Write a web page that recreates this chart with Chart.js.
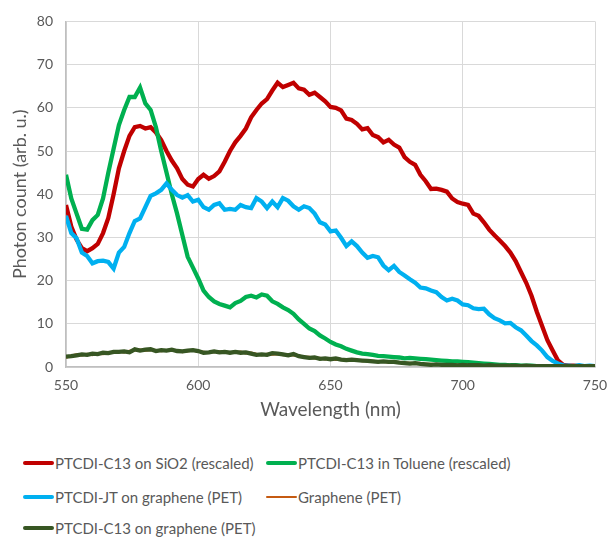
<!DOCTYPE html>
<html>
<head>
<meta charset="utf-8">
<script src="https://cdn.jsdelivr.net/npm/chart.js@4.4.1/dist/chart.umd.min.js"></script>
<style>
  body { margin: 0; background: #fff; }
  #wrap { position: relative; width: 607px; height: 537px; font-family: Lato, sans-serif; }
  #legend .item { position: absolute; height: 20px; line-height: 20px; font-size: 15px; color: #595959; white-space: nowrap; }
  #legend .swatch { position: absolute; left: 0; width: 31px; border-radius: 2px; }
  #legend .label { position: absolute; left: 32px; top: 0; }
</style>
</head>
<body>
<div id="wrap">
  <canvas id="chart" width="607" height="430"></canvas>
  <div id="legend"></div>
</div>
<script>
// wavelength axis, every 2 nm
const wavelengths = [];
for (let w = 550; w <= 750; w += 2) wavelengths.push(w);

const seriesNames = [
  "PTCDI-C13 on SiO2 (rescaled)",
  "PTCDI-C13 in Toluene (rescaled)",
  "PTCDI-JT on graphene (PET)",
  "Graphene (PET)",
  "PTCDI-C13 on graphene (PET)"
];
const seriesColors = ["#C00000", "#00B050", "#00B0F0", "#C55A11", "#375623"];

const sio2 = [37.5, 32.5, 29.5, 27.5, 26.8, 27.5, 28.5, 31, 34.5, 40,
  46, 50, 53.5, 55.5, 55.8, 55.2, 55.5, 54.3, 52.5, 50,
  47.8, 46, 43.5, 42.2, 41.8, 43.5, 44.5, 43.6, 44.2, 45.3,
  47.5, 50, 52, 53.5, 55.2, 57.8, 59.5, 61, 62, 64,
  65.8, 64.8, 65.3, 65.8, 64.5, 64.2, 63, 63.5, 62.5, 61.5,
  60.2, 60, 59.4, 57.5, 57.2, 56.3, 55, 55.3, 53.7, 53.2,
  52, 52.6, 51.5, 50.8, 48.6, 47.5, 46.8, 44.5, 43, 41.2,
  41.3, 41, 40.6, 39, 38.2, 37.8, 37.5, 35.5, 35, 33.5,
  31.8, 30.5, 29.3, 28, 26.5, 24.5, 22, 19.5, 16.5, 12.8,
  9.5, 6.2, 3.8, 1.5, 0.5, 0.3, 0.3, 0.2, 0.2, 0.2, 0.2];

const toluene = [44.5, 39, 35.5, 32, 31.8, 34, 35.2, 39, 45, 50.5,
  56, 59.5, 62.5, 62.5, 64.7, 61, 59.5, 55.5, 50, 45,
  40, 35.5, 30.5, 25.5, 23, 20.5, 17.7, 16.2, 15.2, 14.6,
  14.2, 13.8, 14.8, 15.3, 16.2, 16.5, 16.1, 16.8, 16.5, 15.2,
  14.6, 13.8, 13.2, 12.3, 11, 10, 8.9, 8.3, 7.3, 6.6,
  5.8, 5.2, 4.8, 4.2, 3.8, 3.4, 3.1, 3, 2.8, 2.6,
  2.5, 2.4, 2.3, 2.2, 2.0, 2.1, 2.0, 1.9, 1.8, 1.7,
  1.6, 1.5, 1.4, 1.3, 1.3, 1.2, 1.1, 1.0, 0.9, 0.8,
  0.7, 0.6, 0.5, 0.5, 0.4, 0.4, 0.3, 0.3, 0.3, 0.2,
  0.2, 0.2, 0.2, 0.2, 0.2, 0.2, 0.2, 0.2, 0.2, 0.2, 0.2];

const jtGraphene = [35, 31, 29.8, 26.5, 25.7, 24, 24.5, 24.6, 24.3, 22.8,
  26.5, 27.8, 31, 33.8, 34.4, 37, 39.6, 40.2, 41, 42.5,
  41, 39.8, 39.2, 39.8, 38.3, 38.7, 37, 36.4, 37.5, 37.9,
  36.4, 36.6, 36.4, 37.5, 37, 36.8, 39.1, 38.3, 36.8, 38.3,
  37, 39.1, 38.5, 37.2, 36.4, 37.2, 36.8, 35.5, 33.5, 33,
  31.4, 31.6, 29.9, 28, 29.1, 28, 26.5, 25.3, 25.7, 25.4,
  23.5, 22.4, 23.4, 22, 21.2, 20.3, 19.5, 18.4, 18.2, 17.7,
  17.3, 16.2, 15.4, 15.8, 15.4, 14.5, 14.3, 13.6, 13.4, 13.5,
  12.2, 11.3, 10.8, 10.1, 10.2, 9.2, 8.5, 7.3, 6, 5,
  3.8, 2.3, 1.4, 0.8, 0.4, 0.3, 0.2, 0.4, 0.2, 0.3, 0.2];

const graphene = [2.2, 2.6, 2.9, 2.7, 3.0, 2.8, 3.1, 3.0, 3.4, 3.3,
  3.6, 3.4, 3.7, 3.9, 4.0, 3.8, 4.0, 3.9, 3.7, 3.9,
  3.8, 3.9, 3.5, 3.7, 3.8, 3.6, 3.5, 3.3, 3.5, 3.6,
  3.3, 3.4, 3.3, 3.5, 3.2, 3.3, 3.0, 2.8, 3.0, 2.9,
  3.0, 2.8, 2.9, 2.7, 2.6, 2.4, 2.3, 2.0, 2.1, 1.8,
  1.9, 1.7, 1.8, 1.7, 1.5, 1.6, 1.4, 1.5, 1.4, 1.3,
  1.2, 1.1, 1.2, 1.0, 1.0, 0.9, 0.8, 0.8, 0.7, 0.7,
  0.6, 0.6, 0.5, 0.6, 0.5, 0.4, 0.5, 0.4, 0.3, 0.4,
  0.3, 0.4, 0.3, 0.3, 0.2, 0.3, 0.3, 0.2, 0.2, 0.3,
  0.2, 0.2, 0.2, 0.1, 0.2, 0.2, 0.1, 0.2, 0.2, 0.1, 0.2];

const c13Graphene = [2.4, 2.5, 2.7, 2.9, 2.8, 3.1, 3.0, 3.3, 3.2, 3.5,
  3.5, 3.6, 3.4, 4.1, 3.8, 4.0, 4.1, 3.7, 3.9, 3.8,
  4.0, 3.7, 3.6, 3.8, 3.9, 3.7, 3.3, 3.4, 3.6, 3.4,
  3.5, 3.3, 3.5, 3.3, 3.4, 3.1, 2.8, 2.9, 2.8, 3.2,
  3.1, 2.9, 2.7, 3.0, 2.5, 2.3, 2.1, 2.2, 1.9, 2.0,
  1.8, 2.0, 1.7, 1.6, 1.7, 1.6, 1.5, 1.4, 1.3, 1.2,
  1.3, 1.2, 1.2, 1.0, 0.9, 0.8, 0.9, 0.7, 0.6, 0.5,
  0.6, 0.5, 0.5, 0.5, 0.4, 0.5, 0.4, 0.4, 0.4, 0.3,
  0.4, 0.3, 0.3, 0.3, 0.3, 0.3, 0.2, 0.3, 0.2, 0.2,
  0.2, 0.2, 0.2, 0.2, 0.2, 0.2, 0.2, 0.2, 0.2, 0.2, 0.2];

const xTicks = [550, 600, 650, 700, 750];
const yTicks = [0, 10, 20, 30, 40, 50, 60, 70, 80];

const allSeries = [sio2, toluene, jtGraphene, graphene, c13Graphene];
const lineWidths = [4.3, 4.3, 4.3, 2.5, 4.3];

const datasets = allSeries.map((vals, i) => ({
  label: seriesNames[i],
  data: vals.map((v, j) => ({ x: wavelengths[j], y: v })),
  borderColor: seriesColors[i],
  backgroundColor: seriesColors[i],
  borderWidth: lineWidths[i],
  pointRadius: 0,
  tension: 0,
  order: allSeries.length - i // later series drawn on top, like Excel
}));

const gridColor = "#D9D9D9";
const textColor = "#595959";

new Chart(document.getElementById("chart"), {
  type: "line",
  data: { datasets },
  options: {
    responsive: false,
    animation: false,
    layout: { padding: { left: 0, right: 12, top: 15, bottom: 0 } },
    plugins: { legend: { display: false }, tooltip: { enabled: false } },
    scales: {
      x: {
        type: "linear",
        min: 550, max: 750,
        afterBuildTicks: s => { s.ticks = xTicks.map(v => ({ value: v })); },
        afterFit: s => { s.height = 63; s.paddingRight = 0; s.paddingLeft = 0; },
        grid: { color: gridColor, drawTicks: false },
        border: { color: "#BFBFBF", width: 1.5 },
        ticks: { color: textColor, font: { family: "Lato", size: 14 }, padding: 10, maxRotation: 0 },
        title: { display: true, text: "Wavelength (nm)", color: textColor,
          font: { family: "Lato", size: 19 }, padding: { top: 0, bottom: 9 } }
      },
      y: {
        min: 0, max: 80,
        afterBuildTicks: s => { s.ticks = yTicks.map(v => ({ value: v })); },
        afterFit: s => { s.width = 66; },
        grid: { color: gridColor, drawTicks: false },
        border: { color: "#BFBFBF", width: 1.5 },
        ticks: { color: textColor, font: { family: "Lato", size: 14 }, padding: 13 },
        title: { display: true, text: "Photon count (arb. u.)", color: textColor,
          font: { family: "Lato", size: 18 }, padding: { top: 9, bottom: 0 } }
      }
    }
  }
});

// legend below the chart, two columns like the original
const legendPos = [
  { x: 23, y: 463 }, { x: 266, y: 463 },
  { x: 23, y: 497 }, { x: 266, y: 497 },
  { x: 23, y: 528 }
];
const legend = document.getElementById("legend");
seriesNames.forEach((name, i) => {
  const item = document.createElement("div");
  item.className = "item";
  item.style.left = legendPos[i].x + "px";
  item.style.top = (legendPos[i].y - 10) + "px";
  const h = i === 3 ? 2.5 : 4;
  item.innerHTML = `<div class="swatch" style="top:${10 - h / 2}px;height:${h}px;background:${seriesColors[i]}"></div>` +
    `<span class="label">${name}</span>`;
  legend.appendChild(item);
});
</script>
</body>
</html>
